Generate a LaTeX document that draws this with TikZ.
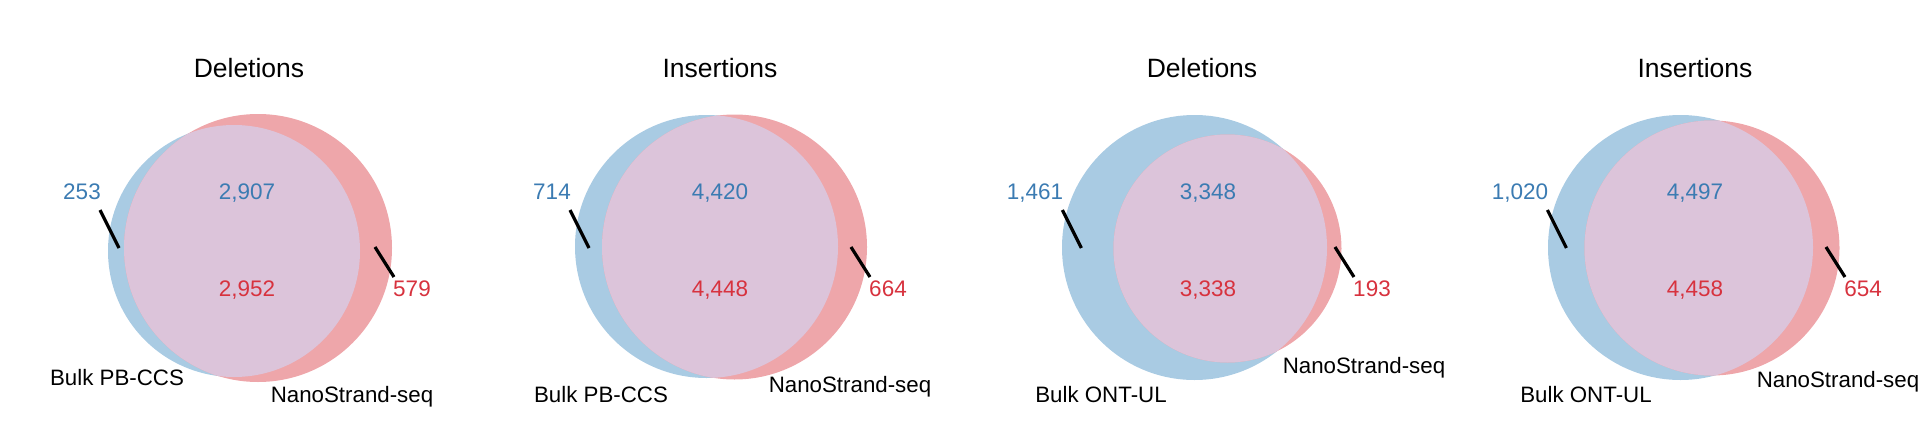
\documentclass[tikz,border=0pt]{standalone}
\usepackage{fontspec}
\setmainfont{Liberation Sans}
\definecolor{vennblue}{HTML}{A9CBE3}
\definecolor{vennred}{HTML}{EEA6AA}
\definecolor{vennboth}{HTML}{DCC4DA}
\definecolor{bluetext}{HTML}{3B7BB2}
\definecolor{redtext}{HTML}{D7323E}

\begin{document}
\begin{tikzpicture}[x=1pt, y=-1pt, line width=.5pt,
  ttl/.style={inner sep=0pt, text depth=0pt, font=\fontsize{26.5}{30}\selectfont},
  num/.style={inner sep=0pt, text depth=0pt, font=\fontsize{22.5}{26}\selectfont},
  lbl/.style={inner sep=0pt, text depth=0pt, font=\fontsize{22.3}{26}\selectfont},
  tick/.style={line width=3.2pt}]
  \useasboundingbox (0,0) rectangle (1920,434);
  % title / circles (x,y,r blue, x,y,r red) / numbers / set labels
  \foreach \ttl/\tx/\bx/\by/\br/\rx/\ry/\rr/\lx/\ln/\cx/\na/\nb/\rnx/\rn/\bkx/\bky/\bk/\nsx/\nsy [count=\c] in {
    Deletions/249/234/251/126/258/248/134/82/253/247/2{,}907/2{,}952/412/579/117/377/Bulk PB-CCS/352/394,
    Insertions/720/706.5/246.5/131.5/734.5/247/132.5/552/714/720/4{,}420/4{,}448/888/664/601/394/Bulk PB-CCS/850/384,
    Deletions/1202/1194.5/247.5/132.5/1227.5/248.5/114/1035/1{,}461/1208/3{,}348/3{,}338/1372/193/1101/394/Bulk ONT-UL/1364/365,
    Insertions/1695/1680.5/247.5/132.5/1712/248/127.5/1520/1{,}020/1695/4{,}497/4{,}458/1863/654/1586/394/Bulk ONT-UL/1838/379}
  {
    \fill [vennblue] (\bx,\by) circle (\br);
    \fill [vennred] (\rx,\ry) circle (\rr);
    \begin{scope}
      \clip (\bx,\by) circle (\br);
      \fill [vennboth] (\rx,\ry) circle (\rr);
    \end{scope}
    \node [ttl] (title\c) at (\tx,68) {\ttl};
    \node [num, bluetext] (lnum\c) at (\lx,192) {\ln};
    \node [num, bluetext] (topnum\c) at (\cx,192) {\na};
    \node [num, redtext] (botnum\c) at (\cx,289) {\nb};
    \node [num, redtext] (rnum\c) at (\rnx,289) {\rn};
    \node [lbl] (bulk\c) at (\bkx,\bky) {\bk};
    \node [lbl] (nano\c) at (\nsx,\nsy) {NanoStrand-seq};
    \coordinate (ltip\c) at ([shift={(18pt,-56pt)}]lnum\c.east);
    \coordinate (rtip\c) at ([shift={(-18pt,42pt)}]rnum\c.west);
    \draw [tick] ([shift={(-1pt,-18pt)}]lnum\c.east) -- (ltip\c);
    \draw [tick] ([shift={(1pt,12pt)}]rnum\c.west) -- (rtip\c);
  }
\end{tikzpicture}
\end{document}
